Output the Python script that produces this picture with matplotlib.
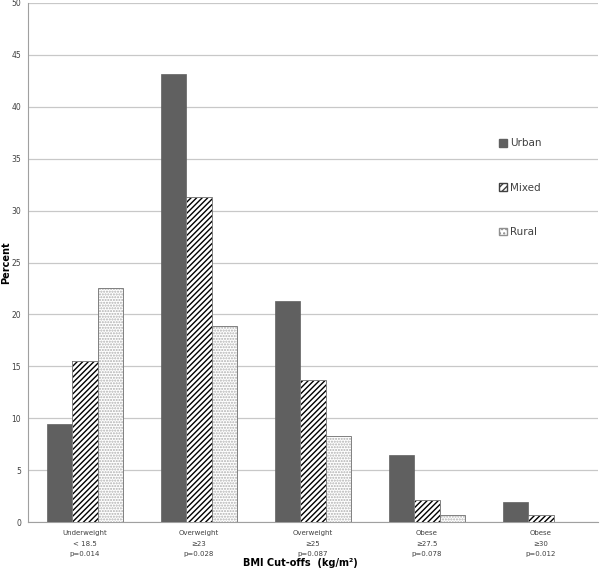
import numpy as np
import matplotlib
matplotlib.use("Agg")
import matplotlib.pyplot as plt
from matplotlib.patches import Patch

categories = ["Underweight\n< 18.5\np=0.014", "Overweight\n\u226523\np=0.028",
              "Overweight\n\u226525\np=0.087", "Obese\n\u226527.5\np=0.078",
              "Obese\n\u226530\np=0.012"]
urban = [9.4, 43.2, 21.3, 6.5, 1.9]
mixed = [15.5, 31.3, 13.7, 2.1, 0.7]
rural = [22.5, 18.9, 8.3, 0.7, 0.0]

plt.rcParams["hatch.linewidth"] = 1.0

fig = plt.figure(figsize=(6.0, 5.76), dpi=100)
ax = fig.add_axes([28 / 600, 54 / 576, 570 / 600, 519 / 576])

x = np.arange(len(categories))
w = 0.225

ax.bar(x - w, urban, w, color="#606060", edgecolor="#606060", lw=0.5, zorder=3)
# mixed: black diagonal hatch on white
ax.bar(x, mixed, w, color="white", edgecolor="black", hatch="//////", lw=0,
       zorder=3)
ax.bar(x, mixed, w, fill=False, edgecolor="#808080", lw=0.7, zorder=4)
# rural: light dotted fill
ax.bar(x + w, rural, w, color="white", edgecolor="#b0b0b0", hatch="......",
       lw=0, zorder=3)
ax.bar(x + w, [v if v > 0 else np.nan for v in rural], w, fill=False,
       edgecolor="#808080", lw=0.7, zorder=4)

handles = [
    Patch(facecolor="#606060", edgecolor="#606060", label="Urban"),
    Patch(facecolor="white", edgecolor="#404040", hatch="/////", label="Mixed"),
    Patch(facecolor="white", edgecolor="#909090", hatch="....", label="Rural"),
]
ax.legend(handles=handles, loc="upper left", bbox_to_anchor=(0.81, 0.757),
          frameon=False, fontsize=7.5, handlelength=0.75, handleheight=0.75,
          handletextpad=0.3, labelspacing=3.3, labelcolor="#404040")

ax.set_xlim(-0.5, len(categories) - 0.5)
ax.set_ylim(0, 50)
ax.set_yticks(np.arange(0, 51, 5))
ax.yaxis.grid(True, color="#c8c8c8", lw=0.9, zorder=0)
ax.set_axisbelow(True)
ax.set_xticks(x)
ax.set_xticklabels(categories, fontsize=5, color="#404040", linespacing=1.85)
ax.tick_params(axis="x", length=0, pad=6)
ax.tick_params(axis="y", length=0, labelsize=5.5, labelcolor="#404040", pad=5)
for s in ["top", "right"]:
    ax.spines[s].set_visible(False)
ax.spines["left"].set_color("#a0a0a0")
ax.spines["bottom"].set_color("#a0a0a0")

ax.set_ylabel("Percent", fontsize=7, fontweight="bold")
ax.yaxis.set_label_coords(-0.03, 0.5)
fig.text(0.5, 1 - 563 / 576, "BMI Cut-offs  (kg/m\u00b2)", ha="center", va="center",
         fontsize=7, fontweight="bold")

fig.savefig("out.png", dpi=100)
